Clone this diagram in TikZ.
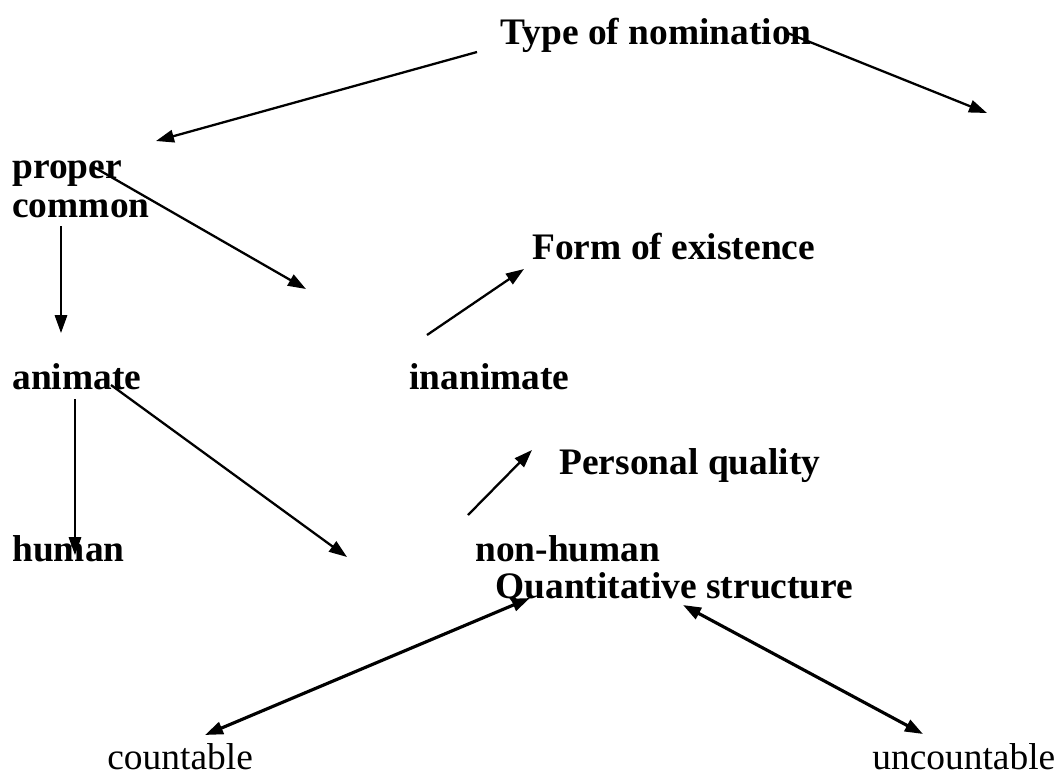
\documentclass[tikz,border=0pt]{standalone}
\usepackage{fontspec}
\setmainfont{Liberation Serif}
\usetikzlibrary{arrows.meta}

\tikzset{
	>={Triangle[length=0.36cm,width=0.25cm]},
	lbl/.style={anchor=base west,inner sep=0pt,font=\fontsize{21.3}{25}\selectfont\bfseries},
	leaf/.style={anchor=base west,inner sep=0pt,font=\fontsize{21.3}{25}\selectfont}
}

\begin{document}
\begin{tikzpicture}
	\useasboundingbox (0,0) rectangle (21.12,-15.46);

	\node[lbl] (nomin) at (10.00,-0.88) {Type of nomination};
	\node[lbl] (proper) at (0.24,-3.56) {proper};
	\node[lbl] (common) at (0.24,-4.34) {common};
	\node[lbl] (exist) at (10.64,-5.18) {Form of existence};
	\node[lbl] (animate) at (0.24,-7.78) {animate};
	\node[lbl] (inanim) at (8.18,-7.78) {inanimate};
	\node[lbl] (personal) at (11.18,-9.48) {Personal quality};
	\node[lbl] (human) at (0.24,-11.22) {human};
	\node[lbl] (nonhuman) at (9.50,-11.22) {non-human};
	\node[lbl] (quant) at (9.90,-11.96) {Quantitative structure};
	\node[leaf] (count) at (2.14,-15.38) {countable};
	\node[leaf] (uncount) at (17.44,-15.38) {uncountable};

	% arrow ends
	\coordinate (nomin-l) at (9.54,-1.04);
	\coordinate (proper-t) at (3.12,-2.82);
	\coordinate (nomin-r) at (15.70,-0.64);
	\coordinate (right-e) at (19.74,-2.26);
	\coordinate (proper-e) at (1.84,-3.32);
	\coordinate (mid-e) at (6.12,-5.78);
	\coordinate (common-b) at (1.22,-4.52);
	\coordinate (animate-t) at (1.22,-6.66);
	\coordinate (inanim-t) at (8.54,-6.70);
	\coordinate (exist-l) at (10.48,-5.38);
	\coordinate (animate-b) at (1.50,-7.98);
	\coordinate (human-t) at (1.50,-11.10);
	\coordinate (animate-e) at (2.22,-7.70);
	\coordinate (low-e) at (6.94,-11.14);
	\coordinate (nonhuman-t) at (9.36,-10.30);
	\coordinate (personal-l) at (10.64,-9.00);
	\coordinate (quant-l) at (10.60,-11.96);
	\coordinate (count-t) at (4.10,-14.70);
	\coordinate (quant-r) at (13.66,-12.10);
	\coordinate (uncount-t) at (18.46,-14.68);

	\draw [->, line width=1.3pt] (nomin-l) -- (proper-t);
	\draw [->, line width=1.3pt] (nomin-r) -- (right-e);
	\draw [->, line width=1.3pt] (proper-e) -- (mid-e);
	\draw [->, line width=1pt] (common-b) -- (animate-t);
	\draw [->, line width=1.3pt] (inanim-t) -- (exist-l);
	\draw [->, line width=1pt] (animate-b) -- (human-t);
	\draw [->, line width=1.3pt] (animate-e) -- (low-e);
	\draw [->, line width=1.3pt] (nonhuman-t) -- (personal-l);

	\draw [<->, line width=1.8pt] (quant-l) -- (count-t);
	\draw [<->, line width=1.8pt] (quant-r) -- (uncount-t);

\end{tikzpicture}
\end{document}
